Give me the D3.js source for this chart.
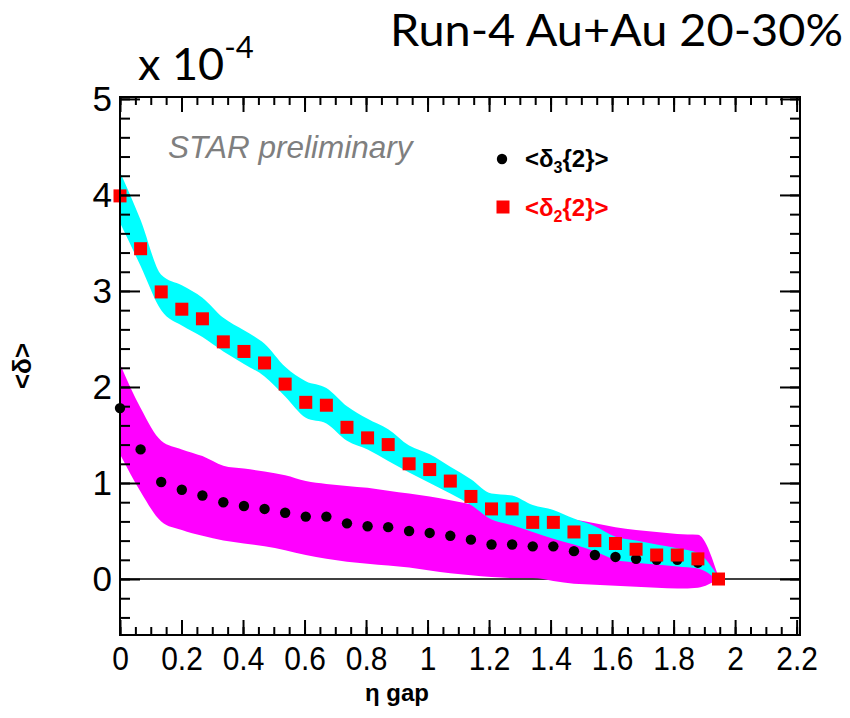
<!DOCTYPE html>
<html>
<head>
<meta charset="utf-8">
<script src="https://cdn.jsdelivr.net/npm/d3@7"></script>
<style>
  html, body { margin: 0; padding: 0; background: #fff; }
  svg { display: block; }
</style>
</head>
<body>
<svg id="chart" width="850" height="718"></svg>
<script>
// ---- data (values in units of 10^-4) ----
const etaGap = [0.000, 0.067, 0.134, 0.201, 0.268, 0.336, 0.403, 0.470, 0.537, 0.604,
                0.671, 0.738, 0.805, 0.872, 0.940, 1.007, 1.074, 1.141, 1.208, 1.275,
                1.342, 1.409, 1.476, 1.544, 1.611, 1.678, 1.745, 1.812, 1.879, 1.946];
const delta2 = [3.99, 3.44, 2.99, 2.81, 2.71, 2.47, 2.37, 2.25, 2.03, 1.84,
                1.81, 1.58, 1.47, 1.40, 1.20, 1.14, 1.02, 0.86, 0.73, 0.73,
                0.59, 0.59, 0.49, 0.40, 0.37, 0.31, 0.25, 0.25, 0.21, 0.00];
const delta2Hi = [4.24, 3.74, 3.17, 3.06, 2.93, 2.72, 2.59, 2.45, 2.21, 2.06,
                  1.99, 1.80, 1.67, 1.56, 1.39, 1.30, 1.17, 1.04, 0.89, 0.87,
                  0.77, 0.72, 0.63, 0.55, 0.44, 0.40, 0.36, 0.32, 0.27, 0.02];
const delta2Lo = [3.71, 3.26, 2.80, 2.64, 2.52, 2.37, 2.24, 2.11, 1.90, 1.68,
                  1.62, 1.44, 1.35, 1.23, 1.11, 1.00, 0.89, 0.77, 0.62, 0.56,
                  0.49, 0.42, 0.36, 0.29, 0.20, 0.17, 0.15, 0.13, 0.11, -0.02];
const delta3 = [1.78, 1.35, 1.01, 0.93, 0.87, 0.80, 0.76, 0.73, 0.69, 0.65,
                0.65, 0.58, 0.55, 0.54, 0.50, 0.48, 0.45, 0.41, 0.36, 0.36,
                0.34, 0.34, 0.29, 0.25, 0.23, 0.21, 0.20, 0.20, 0.17, 0.00];
const delta3Hi = [2.24, 1.78, 1.44, 1.35, 1.28, 1.18, 1.15, 1.12, 1.08, 1.02,
                  0.99, 0.97, 0.95, 0.92, 0.89, 0.86, 0.82, 0.78, 0.75, 0.71,
                  0.68, 0.65, 0.62, 0.58, 0.54, 0.51, 0.49, 0.47, 0.46, 0.02];
const delta3Lo = [1.30, 0.91, 0.60, 0.51, 0.45, 0.40, 0.37, 0.34, 0.30, 0.25,
                  0.21, 0.18, 0.16, 0.14, 0.12, 0.09, 0.06, 0.04, 0.02, 0.01,
                  0.01, -0.02, -0.05, -0.06, -0.07, -0.08, -0.09, -0.10, -0.09, 0.00];
const xTickLabels = ["0", "0.2", "0.4", "0.6", "0.8", "1", "1.2", "1.4", "1.6", "1.8", "2", "2.2"];
const yTickLabels = ["0", "1", "2", "3", "4", "5"];
const legendLabels = [
  { base: "<δ", sub: "3", rest: "{2}>", color: "#000" },
  { base: "<δ", sub: "2", rest: "{2}>", color: "#ff0000" }
];

// ---- layout ----
const svg = d3.select("#chart");
const L = 120, R = 800, T = 97, B = 635;
const x = d3.scaleLinear().domain([0, 2.211]).range([L, R]);
const y = d3.scaleLinear().domain([-0.583, 5.02]).range([B, T]);

const rows = etaGap.map((g, i) => ({
  g, d2: delta2[i], d2h: delta2Hi[i], d2l: delta2Lo[i],
  d3: delta3[i], d3h: delta3Hi[i], d3l: delta3Lo[i]
}));

// zero line
svg.append("line")
  .attr("x1", x(0)).attr("x2", x(2.211))
  .attr("y1", y(0)).attr("y2", y(0))
  .attr("stroke", "#000").attr("stroke-width", 1.5);

// bands
const curve = d3.curveMonotoneX;
svg.append("path").datum(rows)
  .attr("fill", "#ff00ff")
  .attr("d", d3.area().curve(curve).x(d => x(d.g)).y0(d => y(d.d3l)).y1(d => y(d.d3h)));
svg.append("path").datum(rows)
  .attr("fill", "#00ffff")
  .attr("d", d3.area().curve(curve).x(d => x(d.g)).y0(d => y(d.d2l)).y1(d => y(d.d2h)));

// markers
const dotR = 5.2;
svg.append("g").selectAll("circle").data(rows).join("circle")
  .attr("cx", d => x(d.g)).attr("cy", d => y(d.d3)).attr("r", dotR)
  .attr("fill", "#000");
const sq = 13;
svg.append("g").selectAll("rect").data(rows).join("rect")
  .attr("x", d => x(d.g) - sq / 2).attr("y", d => y(d.d2) - sq / 2)
  .attr("width", sq).attr("height", sq)
  .attr("fill", "#ff0000");

// ---- axes ----
function styleAxis(g) {
  g.select(".domain").remove();
  g.selectAll(".tick line").attr("stroke", "#000").attr("stroke-width", 2);
}
const xMajor = d3.range(0, 2.21, 0.2).map(v => +v.toFixed(2));
const xMinor = d3.range(0, 2.211, 0.05).map(v => +v.toFixed(2));
const yMajor = d3.range(0, 5.01, 1);
const yMinor = d3.range(-0.4, 5.01, 0.2).map(v => +v.toFixed(2));

// bottom
svg.append("g").attr("transform", `translate(0,${B})`)
  .call(d3.axisBottom(x).tickValues(xMinor).tickSize(-8).tickFormat(""))
  .call(styleAxis);
const xb = svg.append("g").attr("transform", `translate(0,${B})`)
  .call(d3.axisBottom(x).tickValues(xMajor).tickSize(-15).tickPadding(11)
        .tickFormat((d, i) => xTickLabels[i]))
  .call(styleAxis);
xb.selectAll(".tick text")
  .attr("font-family", "'Liberation Sans', Arial, sans-serif")
  .attr("font-size", 34).attr("fill", "#000")
  .attr("transform", "scale(0.88,1)");
// top
svg.append("g").attr("transform", `translate(0,${T})`)
  .call(d3.axisTop(x).tickValues(xMinor).tickSize(-8).tickFormat(""))
  .call(styleAxis);
svg.append("g").attr("transform", `translate(0,${T})`)
  .call(d3.axisTop(x).tickValues(xMajor).tickSize(-15).tickFormat(""))
  .call(styleAxis);
// left
svg.append("g").attr("transform", `translate(${L},0)`)
  .call(d3.axisLeft(y).tickValues(yMinor).tickSize(-10).tickFormat(""))
  .call(styleAxis);
const yl = svg.append("g").attr("transform", `translate(${L},0)`)
  .call(d3.axisLeft(y).tickValues(yMajor).tickSize(-20).tickPadding(8)
        .tickFormat((d, i) => yTickLabels[i]))
  .call(styleAxis);
yl.selectAll(".tick text")
  .attr("font-family", "'Liberation Sans', Arial, sans-serif")
  .attr("font-size", 35).attr("fill", "#000");
// right
svg.append("g").attr("transform", `translate(${R},0)`)
  .call(d3.axisRight(y).tickValues(yMinor).tickSize(-10).tickFormat(""))
  .call(styleAxis);
svg.append("g").attr("transform", `translate(${R},0)`)
  .call(d3.axisRight(y).tickValues(yMajor).tickSize(-20).tickFormat(""))
  .call(styleAxis);

// frame
svg.append("rect").attr("x", L).attr("y", T).attr("width", R - L).attr("height", B - T)
  .attr("fill", "none").attr("stroke", "#000").attr("stroke-width", 2);

// ---- texts ----
svg.append("text").attr("x", 390).attr("y", 46)
  .attr("font-family", "Lato, 'Open Sans', sans-serif").attr("font-size", 45)
  .attr("textLength", 453).attr("lengthAdjust", "spacingAndGlyphs")
  .text("Run-4 Au+Au 20-30%");

const xt = svg.append("text").attr("x", 138).attr("y", 80)
  .attr("font-family", "Lato, 'Open Sans', sans-serif").attr("font-size", 45);
xt.append("tspan").text("x 10");
xt.append("tspan").attr("font-size", 31).attr("dy", -22).text("-4");

svg.append("text").attr("x", 168).attr("y", 158)
  .attr("font-family", "'Liberation Sans', Arial, sans-serif")
  .attr("font-style", "italic").attr("font-size", 31.5).attr("fill", "#7f7f7f")
  .text("STAR preliminary");

// legend
const leg = svg.append("g");
leg.append("circle").attr("cx", 502).attr("cy", 159).attr("r", dotR).attr("fill", "#000");
leg.append("rect").attr("x", 503 - 6.5).attr("y", 207 - 6.5).attr("width", 13).attr("height", 13)
  .attr("fill", "#ff0000");
legendLabels.forEach((lab, i) => {
  const t = leg.append("text").attr("x", 525).attr("y", 167 + i * 49)
    .attr("font-family", "'Liberation Sans', Arial, sans-serif")
    .attr("font-weight", "bold").attr("font-size", 24).attr("fill", lab.color);
  t.append("tspan").text(lab.base);
  t.append("tspan").attr("font-size", 16).attr("dy", 6).text(lab.sub);
  t.append("tspan").attr("dy", -6).text(lab.rest);
});

// axis titles
svg.append("text").attr("x", 397).attr("y", 701)
  .attr("text-anchor", "middle")
  .attr("font-family", "'Liberation Sans', Arial, sans-serif")
  .attr("font-weight", "bold").attr("font-size", 24)
  .text("η gap");
svg.append("text")
  .attr("transform", "translate(31,366) rotate(-90)")
  .attr("text-anchor", "middle")
  .attr("font-family", "'Liberation Sans', Arial, sans-serif")
  .attr("font-weight", "bold").attr("font-size", 26)
  .text("<δ>");
</script>
</body>
</html>
